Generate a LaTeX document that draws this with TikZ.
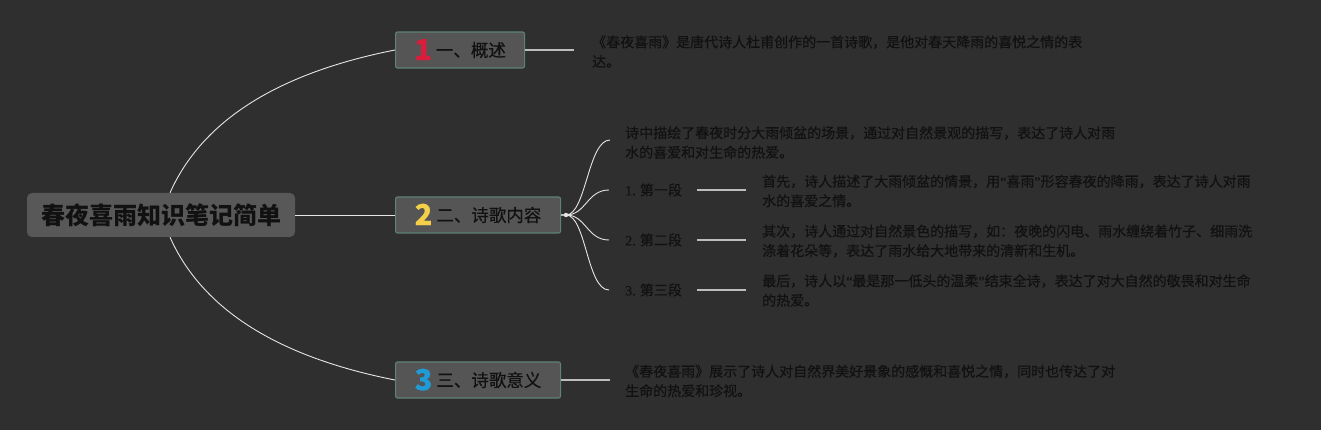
\documentclass[tikz,border=0pt]{standalone}
\usepackage{fontspec}
\setmainfont{Noto Sans CJK SC}
\newfontfamily\heavy{Noto Sans CJK SC}[FakeBold=0.45]
\newfontfamily\lat{Liberation Serif}[FakeBold=0.3]
\usetikzlibrary{calc}
\definecolor{bg}{HTML}{2F2F2F}
\definecolor{rootfill}{HTML}{585858}
\definecolor{boxfill}{HTML}{555555}
\definecolor{boxline}{HTML}{5E8276}
\definecolor{ink}{HTML}{111111}
\definecolor{numA}{HTML}{D81E3C}
\definecolor{numB}{HTML}{F4D04A}
\definecolor{numC}{HTML}{1F9BD8}
\definecolor{stubc}{HTML}{BDBDBD}
\definecolor{curvec}{HTML}{E6E6E6}
\tikzset{
  rootbox/.style={fill=rootfill, rounded corners=5pt, minimum width=268pt, minimum height=44pt,
    inner sep=0pt, text=ink, font=\fontsize{24}{24}\selectfont\bfseries},
  branchbox/.style={fill=boxfill, draw=boxline, line width=1.1pt, rounded corners=2pt,
    minimum height=36pt, inner sep=0pt, anchor=west, text=ink, font=\heavy\fontsize{17.5}{17.5}\selectfont},
  desc/.style={anchor=west, align=left, inner sep=0pt, text=ink, font=\heavy\fontsize{14}{19.5}\selectfont},
  lbl/.style={anchor=west, inner sep=0pt, text=ink, font=\heavy\fontsize{14}{14}\selectfont},
  stub/.style={draw=stubc, line width=1.6pt},
  link/.style={draw=curvec, line width=0.9pt},
}
\newcommand{\bnum}[2]{\smash{\raisebox{-3.5pt}{\fontsize{29}{29}\selectfont\bfseries\color{#1}#2}}\hspace{4pt}}
\begin{document}
\begin{tikzpicture}[x=1pt,y=-1pt]
\fill[bg] (0,0) rectangle (1321,430);
\useasboundingbox (0,0) rectangle (1321,430);

% nodes
\node[rootbox] (root) at (161,215) {春夜喜雨知识笔记简单};
\node[branchbox, minimum width=129pt] (b1) at (395,50) {\bnum{numA}{1}一、概述};
\node[branchbox, minimum width=165pt] (b2) at (395,215) {\bnum{numB}{2}二、诗歌内容};
\node[branchbox, minimum width=165pt] (b3) at (395,380) {\bnum{numC}{3}三、诗歌意义};

\node[desc] (t1) at (592,51.5) {《春夜喜雨》是唐代诗人杜甫创作的一首诗歌，是他对春天降雨的喜悦之情的表\\达。};
\node[desc] (c0) at (625,142.5) {诗中描绘了春夜时分大雨倾盆的场景，通过对自然景观的描写，表达了诗人对雨\\水的喜爱和对生命的热爱。};

\node[lbl] (l1) at (625,190) {{\lat 1.} 第一段};
\node[lbl] (l2) at (625,240) {{\lat 2.} 第二段};
\node[lbl] (l3) at (625,290) {{\lat 3.} 第三段};

\node[desc] (d1) at (762,191) {首先，诗人描述了大雨倾盆的情景，用{\lat “}喜雨{\lat ”}形容春夜的降雨，表达了诗人对雨\\水的喜爱之情。};
\node[desc] (d2) at (762,241) {其次，诗人通过对自然景色的描写，如：夜晚的闪电、雨水缠绕着竹子、细雨洗\\涤着花朵等，表达了雨水给大地带来的清新和生机。};
\node[desc] (d3) at (762,290.5) {最后，诗人以{\lat “}最是那一低头的温柔{\lat ”}结束全诗，表达了对大自然的敬畏和对生命\\的热爱。};

\node[desc] (t3) at (625,381) {《春夜喜雨》展示了诗人对自然界美好景象的感慨和喜悦之情，同时也传达了对\\生命的热爱和珍视。};

% connectors
\coordinate (rtop) at ($(root.north west)!0.5336!(root.north east)$);
\coordinate (rbot) at ($(root.south west)!0.5336!(root.south east)$);
\draw[link] (rtop) .. controls (202,121) and (277,73.3) .. (b1.west);
\draw[link] (rbot) .. controls (202,309) and (277,356.7) .. (b3.west);
\draw[link] (root.east) -- (b2.west);

\draw[stub, shorten >=18pt] (b1.east) -- (b1.east -| t1.west);
\draw[stub, shorten >=15pt] (b3.east) -- (b3.east -| t3.west);

\coordinate (hub) at (566,215);
\draw[stub] (b2.east) -- (hub);
\coordinate (e0) at ($(c0.west |- 0,140)+(-15,0)$);
\coordinate (e1) at ($(l1.west)+(-16,0)$);
\coordinate (e2) at ($(l2.west)+(-16,0)$);
\coordinate (e3) at ($(l3.west)+(-16,0)$);
\foreach \e in {e0,e1,e2,e3}{
  \draw[link] (hub) .. controls ($(hub)+(20,0)$) and ($(\e)+(-22,0)$) .. (\e);
}
\fill[curvec] (hub) circle (2.2pt);

\draw[stub, shorten <=15pt, shorten >=16pt] (l1.east) -- (l1.east -| d1.west);
\draw[stub, shorten <=15pt, shorten >=16pt] (l2.east) -- (l2.east -| d2.west);
\draw[stub, shorten <=15pt, shorten >=16pt] (l3.east) -- (l3.east -| d3.west);
\end{tikzpicture}
\end{document}
